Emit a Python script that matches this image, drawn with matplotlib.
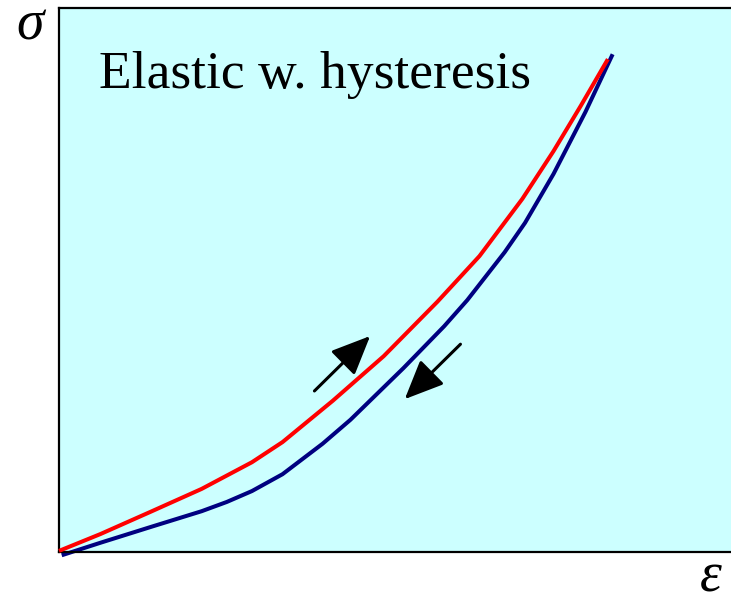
import matplotlib.pyplot as plt

# loading curve (red) and unloading curve (navy), normalised strain / stress
load_strain = [0.0, 0.061, 0.135, 0.210, 0.284, 0.329, 0.403, 0.478, 0.557, 0.619, 0.682, 0.728, 0.768, 0.808]
load_stress = [0.002, 0.033, 0.074, 0.116, 0.165, 0.202, 0.278, 0.360, 0.460, 0.544, 0.649, 0.737, 0.820, 0.906]
unload_strain = [0.004, 0.061, 0.135, 0.210, 0.247, 0.284, 0.329, 0.388, 0.429, 0.507, 0.567, 0.601,
                 0.656, 0.686, 0.728, 0.775, 0.815]
unload_stress = [-0.006, 0.017, 0.046, 0.075, 0.092, 0.112, 0.143, 0.199, 0.243, 0.338, 0.415, 0.463,
                 0.551, 0.605, 0.695, 0.809, 0.915]

# arrows: (start, end)
arrow_up = ((0.376, 0.296), (0.458, 0.397))
arrow_down = ((0.591, 0.382), (0.509, 0.281))

title = "Elastic w. hysteresis"

fig = plt.figure(figsize=(7.31, 5.98), dpi=100)
ax = fig.add_axes([59 / 731, 46 / 598, 1.0 - 59 / 731 + 0.01, 544 / 598])
ax.set_facecolor('#ccffff')
ax.set_xlim(0, 1)
ax.set_ylim(0, 1)

ax.plot(load_strain, load_stress, color='#ff0000', lw=2.9, solid_joinstyle='round',
        solid_capstyle='butt', clip_on=False, zorder=3)
ax.plot(unload_strain, unload_stress, color='#000080', lw=2.9, solid_joinstyle='round',
        solid_capstyle='butt', clip_on=False, zorder=2)

for (x0, y0), (x1, y1) in [arrow_up, arrow_down]:
    ax.annotate('', xy=(x1, y1), xytext=(x0, y0),
                arrowprops=dict(arrowstyle='-|>,head_length=0.8,head_width=0.35',
                                lw=2.2, color='black', mutation_scale=30,
                                shrinkA=0, shrinkB=0))

ax.text(40 / 672, (552 - 88) / 544, title, fontsize=38.5, family='Liberation Serif',
        ha='left', va='baseline')

for s in ['left', 'bottom', 'top']:
    ax.spines[s].set_linewidth(1.6)
ax.spines['right'].set_visible(False)
ax.set_xticks([])
ax.set_yticks([])

fig.text(30 / 731, 1 - 26 / 598, 'σ', fontsize=40, ha='center', va='center',
         family='Liberation Serif', style='italic')
fig.text(711 / 731, 1 - 578 / 598, 'ε', fontsize=40, ha='center', va='center',
         family='Liberation Serif', style='italic')

fig.savefig('out.png', dpi=100)
